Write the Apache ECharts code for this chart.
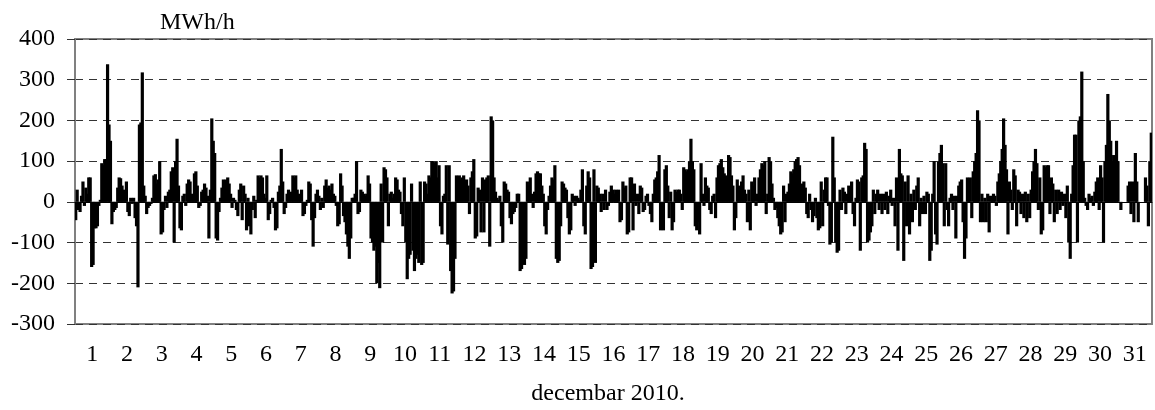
<!DOCTYPE html>
<html>
<head>
<meta charset="utf-8">
<script src="https://cdn.jsdelivr.net/npm/echarts@6/dist/echarts.min.js"></script>
<style>
html,body{margin:0;padding:0;background:#fff;}
#c{width:1155px;height:410px;}
</style>
</head>
<body>
<div id="c"></div>
<script>
// Day labels (x axis)
var days = ['1','2','3','4','5','6','7','8','9','10','11','12','13','14','15','16','17','18','19','20','21','22','23','24','25','26','27','28','29','30','31'];
// Y axis ticks
var yMin = -300, yMax = 400, yStep = 100;
var yUnit = 'MWh/h';
var xTitle = 'decembar 2010.';

// Hourly values (MWh/h), 24 per day
var day01 = [-45, 30, -20, -25, 15, 50, -10, 35, 20, 60, 60, -160, -155, -65, -65, -60, -10, 5, 95, 90, 105, 105, 338, 190];
var day02 = [150, -55, -25, -20, -15, 35, 60, 58, 40, 30, 15, 50, -25, -35, 10, -5, 10, -40, -60, -210, 190, 195, 318, 40];
var day03 = [15, -30, -15, -10, -5, 10, 65, 68, 45, 55, 100, -80, -75, -20, 15, -15, 25, 30, 75, 85, -100, 100, 155, 40];
var day04 = [-65, -70, 15, 20, -10, 45, 55, 50, 20, 10, 70, 75, 40, -15, -10, 25, 30, 45, 35, 15, -90, 30, 205, 150];
var day05 = [120, -90, -95, -25, 10, 35, 55, 50, 55, 60, 45, 20, -15, 10, 5, -20, -35, 30, 45, -45, 40, 20, -70, 10];
var day06 = [-60, -80, -20, 15, -40, 5, 65, 60, 65, 60, 20, 10, 65, -45, -30, 5, 10, -15, -70, -65, 25, 40, 130, 50];
var day07 = [-30, -15, 20, 30, 20, 25, 65, 60, 65, 30, 20, 15, 30, -35, -30, -10, 5, 50, 45, -45, -110, -40, 20, 30];
var day08 = [15, -20, 10, -15, 40, 55, 35, 40, 30, 45, 20, 15, -10, -60, -55, 70, 40, -35, -50, -80, -110, -140, -90, 10];
var day09 = [10, 20, 100, -30, -25, 30, 25, 20, 15, 20, 65, 45, -90, -100, -120, -110, -200, -150, -212, 45, -100, 85, 80, 60];
var day10 = [-60, 20, 25, 10, 20, 60, 55, 30, 25, -30, -60, 60, -100, -190, -140, -130, 45, -120, -170, -140, -130, -150, 50, -155];
var day11 = [-150, 50, 45, 20, 65, 60, 100, 100, 95, 100, 60, 90, -60, -80, 15, 20, 90, -105, 90, -170, -225, -220, -140, 65];
var day12 = [60, 65, 55, 60, 65, 50, 55, 40, -30, 60, 75, 105, -90, -85, 35, 30, -75, 60, -75, 55, 60, 65, -110, 210];
var day13 = [200, 60, 25, 10, 5, 15, -60, -100, 50, 45, 30, 25, -40, -55, -30, -25, -15, 20, 20, -170, -165, -150, -155, -140];
var day14 = [50, 40, 60, 20, -15, 25, 70, 75, 70, 70, 40, 20, -60, -80, -20, 15, 40, 60, 55, 90, -140, -150, -145, -60];
var day15 = [50, 45, 35, 30, -40, -80, -70, 20, 15, -10, 15, 10, 5, 30, 80, -60, -80, 40, 75, 60, -165, -160, 80, -150];
var day16 = [40, 35, 20, -25, 20, -20, 30, -20, -10, 25, 40, 30, 20, 30, 25, 30, -50, -45, 50, 35, 40, -80, -75, 60];
var day17 = [60, -70, 45, -10, 20, -30, 40, 35, -25, -20, 15, 20, -10, -30, -50, 20, 55, 60, 75, 115, -70, -65, -70, 80];
var day18 = [90, 40, -40, 25, -70, -50, 30, 25, 30, 30, 20, -20, 85, 80, 75, 80, 100, 155, 100, 80, -60, -70, -50, -80];
var day19 = [95, 20, -10, 60, 40, 35, -20, -30, 15, 20, -40, 60, 90, 95, 105, 85, 70, 65, 60, 115, 110, 65, 40, -70];
var day20 = [-40, 55, 40, 35, 50, 65, 30, 20, -50, 30, -70, 50, 40, 60, -10, 20, 60, 80, 95, 90, 100, -30, 20, 110];
var day21 = [100, 45, 10, -20, -15, -40, -60, -80, -75, 40, -50, 20, 25, 45, 75, 70, 80, 100, 105, 110, 90, 40, 45, 50];
var day22 = [35, -30, -40, 20, -20, -50, -35, 10, -40, -70, -65, 50, -60, 30, 60, 60, -10, -105, -100, 160, 60, -100, -125, -120];
var day23 = [30, -20, 35, 25, -30, 20, 40, 35, 50, -30, -60, 10, 55, 50, -120, 60, 65, 145, 130, -100, -95, -75, -60, 30];
var day24 = [-30, 20, 30, -20, 20, -30, 20, -20, 25, -30, 15, 30, -10, 10, -60, 60, -120, 130, 70, 65, -145, 50, -60, 65];
var day25 = [-80, 20, -50, 30, -20, 40, 60, -60, 10, -30, 15, -30, 25, 20, -145, -120, 20, 100, -80, -105, 100, 120, 140, 95];
var day26 = [-60, 95, -20, -60, 10, 20, -20, 15, -90, 15, 40, 50, 55, -50, -140, -90, 60, 50, 60, -40, 75, 100, 120, 225];
var day27 = [200, -50, 20, -50, 10, -50, 20, -75, 15, 10, 20, 15, -10, 50, 70, 100, 130, 205, 140, 80, -80, 50, 30, -20];
var day28 = [80, 65, -60, 30, 25, -30, 20, -40, 25, -50, 20, -40, 30, 75, 100, 130, 95, -20, 60, -80, -70, 90, 85, 90];
var day29 = [90, -30, 60, 45, -50, 30, -30, 30, -20, 25, -10, 20, -40, 40, -100, -140, 20, 90, 165, 165, -100, 200, 210, 320];
var day30 = [100, 10, -10, -20, 20, 10, 15, -10, 25, 50, 60, -20, 90, 60, -100, 100, 140, 265, 200, 150, 100, 115, 80, 150];
var day31 = [100, 0, -20, 0, 0, 0, 0, 40, 50, -30, 50, -50, 120, 50, -50, 0, 0, 0, 0, 60, 40, -60, 100, 170];

var allDays = [day01,day02,day03,day04,day05,day06,day07,day08,day09,day10,day11,day12,day13,day14,day15,day16,day17,day18,day19,day20,day21,day22,day23,day24,day25,day26,day27,day28,day29,day30,day31];
var hours = [], points = [];
allDays.forEach(function(arr, d){
  arr.forEach(function(v, h){ points.push([hours.length, v]); hours.push(days[d] + '-' + h); });
});

var FONT = '"Liberation Serif","Times New Roman",serif';
var BAR_W = 3.2;
var chart = echarts.init(document.getElementById('c'), null, {renderer:'canvas'});
chart.setOption({
  animation: false,
  backgroundColor: '#fff',
  grid: {left: 75, right: 3, top: 39, bottom: 86, show: true, borderColor: '#808080', borderWidth: 2, backgroundColor: 'transparent'},
  xAxis: [
    {type: 'category', data: hours, boundaryGap: true,
     axisLine: {show: true, onZero: true, lineStyle: {color: '#000', width: 1}},
     axisTick: {show: false}, axisLabel: {show: false}, splitLine: {show: false}, z: 1},
    {type: 'category', data: days, position: 'bottom', boundaryGap: true,
     axisLine: {show: false, onZero: false}, axisTick: {show: false},
     axisLabel: {show: true, interval: 0, color: '#000', fontFamily: FONT, fontSize: 24, margin: 19},
     splitLine: {show: false}}
  ],
  yAxis: {type: 'value', min: yMin, max: yMax, interval: yStep,
    axisLine: {show: true, lineStyle: {color: '#808080', width: 2}},
    axisTick: {show: true, inside: false, length: 8, lineStyle: {color: '#333', width: 1}},
    axisLabel: {color: '#000', fontFamily: FONT, fontSize: 24, margin: 20},
    splitLine: {show: true, lineStyle: {color: '#333', width: 1, type: [8, 6]}}
  },
  series: [{
    type: 'custom', xAxisIndex: 0, yAxisIndex: 0, data: points,
    encode: {x: 0, y: 1}, clip: true,
    renderItem: function(params, api){
      var i = api.value(0), v = api.value(1);
      var p0 = api.coord([i, 0]);
      var p1 = api.coord([i, v]);
      return {type: 'rect',
        shape: {x: p0[0] - BAR_W / 2, y: Math.min(p0[1], p1[1]), width: BAR_W, height: Math.abs(p1[1] - p0[1])},
        style: {fill: '#000'}};
    }
  }],
  graphic: [
    {type: 'text', left: 160, top: 11, style: {text: yUnit, font: '24px ' + FONT, fill: '#000'}},
    {type: 'text', x: 608, y: 394, style: {text: xTitle, font: '24px ' + FONT, fill: '#000', textAlign: 'center', textVerticalAlign: 'middle'}}
  ]
});
</script>
</body>
</html>
